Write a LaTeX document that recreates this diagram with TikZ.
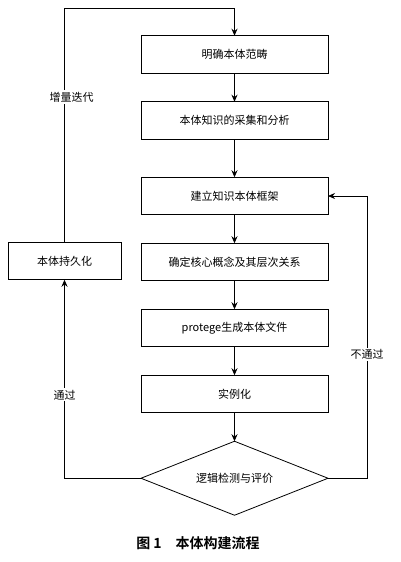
\documentclass[tikz,border=0pt]{standalone}
\usepackage{fontspec}
\setmainfont{Noto Sans CJK SC}
\newfontfamily\capfont{Noto Sans CJK SC Bold}
\usepackage{xcolor}
\usepackage{tikz}
\usetikzlibrary{shapes.geometric, arrows.meta, positioning}

\begin{document}
\begin{tikzpicture}[x=1pt, y=-1pt, node distance=28.5pt,
        stepbox/.style={draw, line width=0.8pt, minimum width=187pt, minimum height=37.5pt, inner sep=2pt, outer sep=0pt, font=\fontsize{11}{13}\selectfont},
        decision/.style={draw, diamond, aspect=2.5, line width=0.8pt, minimum width=187pt, minimum height=74pt, inner sep=1pt, outer sep=0pt, font=\fontsize{11}{13}\selectfont},
        flow/.style={line width=0.8pt, -{Stealth[length=7pt, width=6pt]}},
        tag/.style={fill=white, inner sep=1.5pt, font=\fontsize{11}{13}\selectfont}]
        \useasboundingbox (0,0) rectangle (400,562);
        % main column
        \node (scope) [stepbox] at (234.5,54.5) {明确本体范畴};
        \node (collect) [stepbox, below=of scope] {本体知识的采集和分析};
        \node (frame) [stepbox, below=38pt of collect] {建立知识本体框架};
        \node (concept) [stepbox, below=of frame] {确定核心概念及其层次关系};
        \node (protege) [stepbox, below=of concept] {protege生成本体文件};
        \node (instance) [stepbox, below=of protege] {实例化};
        \node (check) [decision, below=of instance] {逻辑检测与评价};
        % side box
        \node (persist) [stepbox, minimum width=113pt] at (64.5,261) {本体持久化};
        \coordinate (top) at (234.5,8);
        \coordinate (back) at (367,0);

        \draw[flow] (scope) -- (collect);
        \draw[flow] (collect) -- (frame);
        \draw[flow] (frame) -- (concept);
        \draw[flow] (concept) -- (protege);
        \draw[flow] (protege) -- (instance);
        \draw[flow] (instance) -- (check);
        \draw[flow] (check.west) -| node[tag, pos=0.71] {通过} (persist.south);
        \draw[flow] (check.east) -| node[tag, pos=0.72] {不通过} (back |- frame.east) -- (frame.east);
        \draw[flow] (persist.north) -- node[tag, pos=0.62, xshift=7pt] {增量迭代} (persist.north |- top) -| (scope.north);

        \node (caption) [font=\capfont\fontsize{14}{16}\selectfont] at (198,543) {图 1\quad 本体构建流程};
\end{tikzpicture}
\end{document}
